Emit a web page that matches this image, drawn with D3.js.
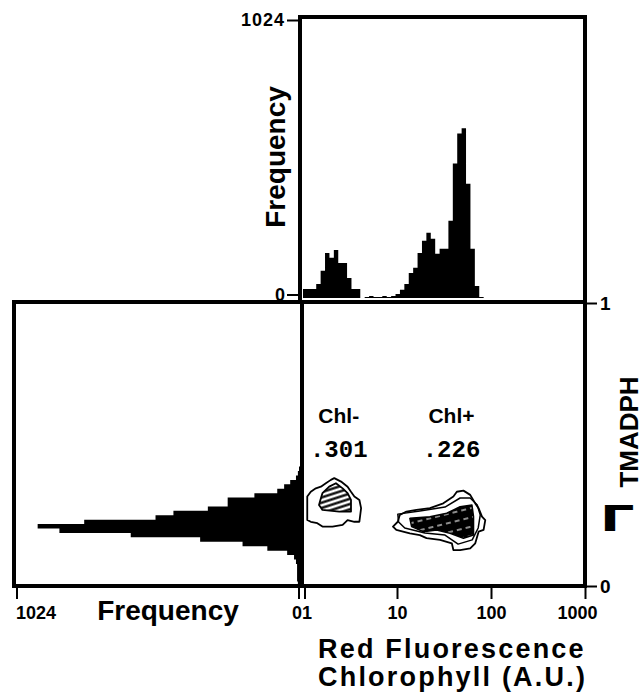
<!DOCTYPE html>
<html>
<head>
<meta charset="utf-8">
<script src="https://cdn.jsdelivr.net/npm/d3@7"></script>
<style>
  body { margin: 0; background: #fff; }
  svg text { font-family: "Liberation Sans", Arial, sans-serif; font-weight: bold; fill: #000; }
  .tick text { font-family: "Liberation Sans", Arial, sans-serif; font-weight: bold; }
</style>
</head>
<body>
<div id="chart"></div>
<script>
// red fluorescence histogram, 64 log channels over 1..1000 (counts per channel)
var redCounts = [33, 33, 33, 52, 100, 166, 148, 177, 129, 129, 74, 33, 33, 0, 4, 7, 4, 4, 7, 4, 7,
                 15, 30, 52, 92, 111, 166, 211, 240, 218, 163, 181, 181, 285, 495, 606, 625, 421, 181, 44, 4, 0];
// TMADPH histogram, 64 channels over 0..1, from channel 0 upward
var tmCounts = [4, 7, 7, 7, 7, 11, 18, 43, 115, 205, 359, 611, 870, 949, 780, 521, 456, 331, 259, 259,
                162, 79, 54, 32, 11, 4, 0];
var nChannels = 64;

var redTicks = [10, 100, 1000];
var freqMax = 1024;

// contour rings, [red fluorescence, TMADPH]
var chlMinusOuter = [[2.15, 0.381], [2.54, 0.369], [2.98, 0.351], [3.24, 0.333], [3.52, 0.316], [3.98, 0.304],
  [4.15, 0.275], [3.98, 0.227], [3.52, 0.227], [2.98, 0.233], [2.64, 0.216], [2.06, 0.210], [1.61, 0.210],
  [1.42, 0.222], [1.21, 0.227], [1.11, 0.233], [1.11, 0.269], [1.11, 0.316], [1.21, 0.333], [1.37, 0.345],
  [1.55, 0.351], [1.75, 0.363], [1.98, 0.375]];
var chlMinusInner = [[1.61, 0.328], [1.90, 0.351], [2.24, 0.363], [2.64, 0.345], [2.98, 0.328], [3.24, 0.304],
  [3.24, 0.263], [2.43, 0.263], [1.61, 0.269], [1.48, 0.286], [1.55, 0.310]];
var chlPlusOuter = [[9.06, 0.210], [10.2, 0.227], [10.7, 0.251], [12.6, 0.263], [16.1, 0.269], [22.4, 0.275],
  [31.1, 0.292], [39.8, 0.316], [43.3, 0.333], [50.9, 0.337], [60.1, 0.322], [68.0, 0.292], [73.8, 0.275],
  [80.2, 0.245], [86.9, 0.233], [83.4, 0.198], [73.8, 0.192], [68.0, 0.151], [60.1, 0.133], [46.9, 0.127],
  [39.8, 0.127], [38.3, 0.151], [28.7, 0.163], [20.6, 0.169], [17.5, 0.180], [13.7, 0.186], [11.6, 0.192],
  [9.84, 0.198]];
var chlPlusMiddle = [[10.2, 0.254], [17.5, 0.265], [32.4, 0.279], [46.9, 0.311], [60.1, 0.311], [71.4, 0.286],
  [76.9, 0.251], [73.1, 0.205], [63.1, 0.163], [44.7, 0.148], [32.4, 0.180], [19.8, 0.187], [12.1, 0.205],
  [10.4, 0.226]];
var chlPlusCore = [[13.7, 0.239], [22.4, 0.245], [33.8, 0.257], [46.9, 0.280], [62.7, 0.286], [65.2, 0.245],
  [65.2, 0.180], [50.9, 0.169], [36.7, 0.186], [26.4, 0.198], [19.0, 0.192], [14.3, 0.210]];

var svg = d3.select("#chart").append("svg").attr("width", 644).attr("height", 692),
    xL = 14, xM = 302, xR = 585, yT = 17, yM = 302, yB = 586;

var x = d3.scaleLog().domain([1, 1000]).range([xM + 1, xR]),
    xCh = d3.scaleLinear().domain([0, nChannels]).range([xM + 1, xR]),
    yFreq = d3.scaleLinear().domain([0, freqMax]).range([298, 20]),
    y = d3.scaleLinear().domain([0, 1]).range([yB, yM + 1]),
    yCh = d3.scaleLinear().domain([0, nChannels]).range([yB, yM + 1]),
    xFreq = d3.scaleLinear().domain([0, freqMax]).range([299, 17]);

// patterns
var defs = svg.append("defs");
var hatch = defs.append("pattern").attr("id", "hatch").attr("patternUnits", "userSpaceOnUse")
    .attr("width", 5).attr("height", 5).attr("patternTransform", "rotate(-18)");
hatch.append("rect").attr("width", 5).attr("height", 5).attr("fill", "#fff");
hatch.append("line").attr("x1", 0).attr("x2", 5).attr("y1", 2.5).attr("y2", 2.5)
    .attr("stroke", "#000").attr("stroke-width", 2.3);
var dark = defs.append("pattern").attr("id", "dark").attr("patternUnits", "userSpaceOnUse")
    .attr("width", 9).attr("height", 9).attr("patternTransform", "rotate(-14)");
dark.append("rect").attr("width", 9).attr("height", 9).attr("fill", "#000");
dark.append("line").attr("x1", 0).attr("x2", 5).attr("y1", 4).attr("y2", 4)
    .attr("stroke", "#fff").attr("stroke-width", 1.1);

// top histogram
var topArea = d3.area()
    .curve(d3.curveStepAfter)
    .x(function(d, i) { return xCh(i); })
    .y0(yFreq(0))
    .y1(function(d) { return yFreq(d); });
svg.append("path").attr("d", topArea(redCounts.concat([0]))).attr("fill", "#000");

// left histogram (horizontal)
var leftArea = d3.area()
    .curve(d3.curveStepBefore)
    .y(function(d, i) { return yCh(i); })
    .x0(xM)
    .x1(function(d) { return xFreq(d); });
svg.append("path").attr("d", leftArea(tmCounts.concat([0]))).attr("fill", "#000");

// contours
var ring = d3.line()
    .curve(d3.curveLinearClosed)
    .x(function(d) { return x(d[0]); })
    .y(function(d) { return y(d[1]); });

function contour(pts, fill, w) {
    svg.append("path").attr("d", ring(pts))
        .attr("fill", fill).attr("stroke", "#000")
        .attr("stroke-width", w).attr("stroke-linejoin", "round");
}
contour(chlMinusOuter, "none", 1.8);
contour(chlMinusInner, "url(#hatch)", 1.8);
contour(chlPlusOuter, "none", 1.8);
contour(chlPlusMiddle, "none", 1.5);
contour(chlPlusCore, "url(#dark)", 1.5);

// frames
var frame = svg.append("g").attr("fill", "none").attr("stroke", "#000").attr("stroke-width", 4);
frame.append("rect").attr("x", xM - 2).attr("y", yT).attr("width", xR - xM + 2).attr("height", yM - yT);
frame.append("rect").attr("x", xL).attr("y", yM).attr("width", xM - xL).attr("height", yB - yM);
frame.append("rect").attr("x", xM).attr("y", yM).attr("width", xR - xM).attr("height", yB - yM);

// axes
function styleAxis(g, size) {
    g.select(".domain").remove();
    g.selectAll(".tick line").attr("stroke-width", 2);
    g.selectAll(".tick text").style("font-size", size + "px");
}

svg.append("g")
    .attr("transform", "translate(0," + (yB + 2) + ")")
    .call(d3.axisBottom(x).tickValues(redTicks).tickSize(11).tickPadding(7)
        .tickFormat(function(d) { return d; }))
    .call(styleAxis, 18)
    .call(function(g) {
        g.selectAll(".tick text").filter(function(d) { return d === 1000; }).attr("dx", "-8");
    });

// "0" and "1" under the shared corner
var corner = svg.append("g").attr("transform", "translate(0," + (yB + 2) + ")");
corner.append("line").attr("x1", xFreq(0)).attr("x2", xFreq(0)).attr("y2", 11).attr("stroke", "#000").attr("stroke-width", 2);
corner.append("line").attr("x1", x(1) + 2).attr("x2", x(1) + 2).attr("y2", 11).attr("stroke", "#000").attr("stroke-width", 2);
corner.append("line").attr("x1", xFreq(freqMax)).attr("x2", xFreq(freqMax)).attr("y2", 11).attr("stroke", "#000").attr("stroke-width", 2);
corner.append("g").attr("class", "tick").append("text").attr("x", xM).attr("y", 31)
    .attr("text-anchor", "middle").style("font-size", "18px").text("01");
corner.append("g").attr("class", "tick").append("text").attr("x", xFreq(freqMax) - 1).attr("y", 31)
    .style("font-size", "18px").text("1024");

svg.append("g")
    .attr("transform", "translate(" + (xM - 2) + ",0)")
    .call(d3.axisLeft(yFreq).tickValues([0, freqMax]).tickSize(13).tickPadding(2).tickFormat(d3.format("d")))
    .call(styleAxis, 18)
    .call(function(g) {
        g.selectAll(".tick").filter(function(d) { return d === 0; }).attr("transform", "translate(0," + (yFreq(0) - 3) + ")");
        g.selectAll(".tick text").filter(function(d) { return d === freqMax; }).attr("letter-spacing", "1");
    });

svg.append("g")
    .attr("transform", "translate(" + (xR + 2) + ",0)")
    .call(d3.axisRight(y).tickValues([0, 1]).tickSize(10).tickPadding(3).tickFormat(d3.format("d")))
    .call(styleAxis, 19);

// labels
svg.append("text")
    .attr("transform", "translate(285,157) rotate(-90)")
    .attr("text-anchor", "middle").style("font-size", "28px").text("Frequency");
svg.append("text")
    .attr("x", 168).attr("y", 620)
    .attr("text-anchor", "middle").style("font-size", "28px").text("Frequency");
svg.append("text")
    .attr("x", 318).attr("y", 658)
    .style("font-size", "27px").attr("letter-spacing", "2.2").text("Red Fluorescence");
svg.append("text")
    .attr("x", 318).attr("y", 686)
    .style("font-size", "27px").attr("letter-spacing", "2.2").text("Chlorophyll (A.U.)");
svg.append("text")
    .attr("transform", "translate(638,432) rotate(-90)")
    .attr("text-anchor", "middle").style("font-size", "26px").text("TMADPH");
svg.append("text")
    .attr("transform", "translate(600,531) scale(1.5,1)")
    .style("font-family", "DejaVu Sans").style("font-size", "36px").text("Γ");

svg.append("text").attr("x", x(2.4)).attr("y", 423)
    .attr("text-anchor", "middle").style("font-size", "21px").text("Chl-");
svg.append("text").attr("x", x(38)).attr("y", 423)
    .attr("text-anchor", "middle").style("font-size", "21px").text("Chl+");
svg.append("text").attr("x", x(2.4)).attr("y", 457)
    .attr("text-anchor", "middle").style("font-family", "Liberation Mono, monospace").style("font-size", "24px").text(".301");
svg.append("text").attr("x", x(38)).attr("y", 457)
    .attr("text-anchor", "middle").style("font-family", "Liberation Mono, monospace").style("font-size", "24px").text(".226");
</script>
</body>
</html>
